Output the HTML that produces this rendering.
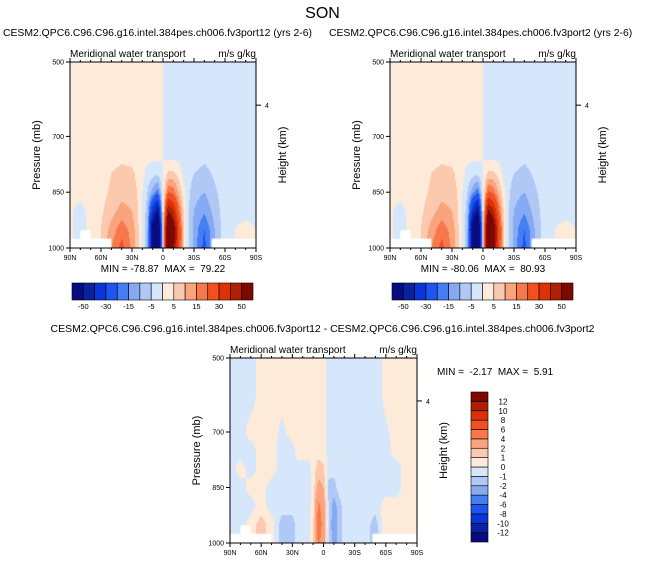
<!DOCTYPE html>
<html><head><meta charset="utf-8">
<style>
body{margin:0;background:#fff;width:645px;height:565px;overflow:hidden;position:relative;font-family:"Liberation Sans",sans-serif;color:#000}
.t{position:absolute;white-space:nowrap;line-height:1}
canvas{position:absolute}
svg{position:absolute;left:0;top:0}
</style></head><body>
<div class="t" style="left:0;width:645px;text-align:center;top:6px;font-size:16px">SON</div>
<svg id="ax" width="645" height="565"></svg>
<script>
const lats=[90,80,70,60,50,40,30,25,20,15,10,5,0,-5,-10,-15,-20,-25,-30,-40,-50,-60,-70,-80,-90];
const levs=[500,600,700,750,800,850,900,950,1000];
const topBounds=[-50,-40,-30,-20,-15,-10,-5,0,5,10,15,20,30,40,50];
const topTickLabels=["-50","-30","-15","-5","5","15","30","50"];
const diffBounds=[-12,-10,-8,-6,-4,-2,-1,0,1,2,4,6,8,10,12];
const colors=['#0a0a80','#0b22a0','#0a35d8','#1d55f0','#467ef2','#86a9f4','#afc8f6','#d6e7fb','#fdead9','#fcc9ae','#f9a47c','#f6784b','#f2501e','#da3108','#b01f04','#7c0800'];
const fieldL=[
[2,2,2,2,2,2,2,2,2,2,2,2,0,-2,-2,-2,-2,-2,-2,-2,-2,-2,-2,-2,-2],
[2,2,2,2,2,2,2,2,2,2,2,2,0,-2,-2,-2,-2,-2,-2,-2,-2,-2,-2,-2,-2],
[2,2,2,2,2,2,2,2,2,2,2,2,0,-2,-2,-2,-2,-2,-2,-2,-2,-2,-2,-2,-2],
[2,2,2,2,2,3,3,2,2,2,2,2,0,-2,-2,-2,-2,-2,-2,-3,-2,-2,-2,-2,-2],
[2,2,2,2,5,7,6,4,2,-2,-3,-4,0,6,6,3,-2,-3,-5,-7,-4,-2,-2,-2,-2],
[2,2,2,3,6,8,7,5,0,-5,-12,-18,0,20,18,10,2,-4,-8,-10,-6,-2,-2,-2,-2],
[1,-2,2,4,8,12,10,6,0,-8,-35,-50,0,50,40,20,5,-5,-10,-14,-8,-2,-2,-2,-2],
[1,-2,2,5,12,18,13,7,0,-10,-60,-80,0,80,60,30,6,-5,-12,-20,-10,-2,0,2,0],
[1,-2,2,5,15,22,14,7,0,-10,-55,-75,0,75,55,28,6,-5,-12,-22,-10,-2,0,3,0]];
const fieldR=[
[2,2,2,2,2,2,2,2,2,2,2,2,0,-2,-2,-2,-2,-2,-2,-2,-2,-2,-2,-2,-2],
[2,2,2,2,2,2,2,2,2,2,2,2,0,-2,-2,-2,-2,-2,-2,-2,-2,-2,-2,-2,-2],
[2,2,2,2,2,2,2,2,2,2,2,2,0,-2,-2,-2,-2,-2,-2,-2,-2,-2,-2,-2,-2],
[2,2,2,2,2,3,3,2,2,2,2,2,0,-2,-2,-2,-2,-2,-2,-3,-2,-2,-2,-2,-2],
[2,2,2,2,5,7,6,4,2,-2,-3,-4,0,6,6,3,-2,-3,-5,-7,-4,-2,-2,-2,-2],
[2,2,2,3,6,8,7,5,0,-5,-13,-19,0,21,18,10,2,-4,-8,-10,-6,-2,-2,-2,-2],
[1,-2,2,4,8,12,10,6,0,-8,-36,-52,0,52,42,20,5,-5,-10,-14,-8,-2,-2,-2,-2],
[1,-2,2,5,12,18,13,7,0,-10,-62,-80,0,81,62,30,6,-5,-12,-20,-10,-2,0,2,0],
[1,-2,2,5,15,22,14,7,0,-10,-56,-76,0,76,56,28,6,-5,-12,-22,-10,-2,0,3,0]];
const fieldD=[
[-.5,-.5,-.5,.5,.5,.5,.5,.5,.5,.5,.5,.5,.5,-.5,-.5,-.5,-.5,-.5,-.5,-.5,-.5,.3,.5,.5,.5],
[-.5,-.5,-.5,.5,.5,.5,.5,.5,.5,.5,.5,.5,.5,-.5,-.5,-.5,-.5,-.5,-.5,-.5,-.5,.3,.5,.5,.5],
[-.5,-.5,.5,.5,.5,-.3,.5,.5,.5,.5,.5,.5,.5,-.5,-.5,-.5,-.5,-.5,-.5,-.5,-.5,-.2,.5,.5,.5],
[-.5,-.5,-.5,.5,.5,-.5,-.5,.5,.5,.5,.5,.5,.5,-.5,-.5,-.5,-.5,-.5,-.5,-.5,-.5,-.5,.5,.5,.5],
[-.5,.5,-.5,.5,.5,-.5,-.5,-.5,-.5,-.5,.5,1.5,1.2,-.5,-.5,-.5,-.5,-.5,-.5,-.5,-.5,-.5,-.5,.5,.5],
[-.5,-.5,.5,.5,-.5,-.5,-.5,-.5,-.5,-.5,.5,2.5,2,-1.5,-1.5,-.5,-.5,-.5,-.5,-.5,-.5,-.5,-.5,.5,.5],
[-.5,-.5,-.5,.5,-.5,-.5,-.5,-.5,-.5,-.5,.5,4.5,3,-1,-2.5,-1.5,-.5,-.5,-.5,-.5,-.5,.5,.5,.5,.5],
[-.5,-.5,.5,1.5,.5,-1.5,-1.5,-.5,-.5,-.5,.8,5,3.5,-1,-3,-1.5,-.5,-.5,-.5,-.5,-1.5,1,.5,.5,.5],
[-.5,-.5,.5,1.5,.5,-1.5,-1.5,-.5,-.5,-.5,.8,4.5,3,-1,-2.5,-1.5,-.5,-.5,-.5,-.5,-1.5,1,.5,.5,.5]];
const xTickLabels=["90N","60N","30N","0","30S","60S","90S"];
const xTickLats=[90,60,30,0,-30,-60,-90];
const pTicks=[500,700,850,1000];

const NS='http://www.w3.org/2000/svg';
const svg=document.getElementById('ax');
function el(tag,attrs,parent){const e=document.createElementNS(NS,tag);for(const k in attrs)e.setAttribute(k,attrs[k]);(parent||svg).appendChild(e);return e;}
function txt(x,y,s,size,anchor,parent,rot){const t=el('text',{x:x,y:y,'font-size':size,'text-anchor':anchor||'start','font-family':'Liberation Sans, sans-serif'},parent);if(rot)t.setAttribute('transform','rotate(-90 '+x+' '+y+')');t.textContent=s;return t;}
function colorFor(v,b){let i=0;while(i<b.length&&v>b[i])i++;return colors[i];}
function sample(f,lat,p){
  let i=0;while(i<lats.length-2&&lat<lats[i+1])i++;
  let tx=(lats[i]-lat)/(lats[i]-lats[i+1]);
  let j=0;while(j<levs.length-2&&p>levs[j+1])j++;
  let ty=(p-levs[j])/(levs[j+1]-levs[j]);
  tx=Math.max(0,Math.min(1,tx));ty=Math.max(0,Math.min(1,ty));
  const a=f[j][i],b=f[j][i+1],c=f[j+1][i],d=f[j+1][i+1];
  return a*(1-tx)*(1-ty)+b*tx*(1-ty)+c*(1-tx)*ty+d*tx*ty;
}
function panel(name,x0,y0,w,h,field,bounds){
  const xS=lat=>x0+(90-lat)/180*w, yS=p=>y0+(p-500)/500*h;
  const cv=document.createElement('canvas');cv.width=w;cv.height=h;
  cv.style.left=x0+'px';cv.style.top=y0+'px';
  
  
  document.body.insertBefore(cv,svg);
  const ctx=cv.getContext('2d');
  for(let px=0;px<w;px++)for(let py=0;py<h;py++){
    const lat=90-(px+0.5)/w*180,p=500+(py+0.5)/h*500;
    ctx.fillStyle=colorFor(sample(field,lat,p),bounds);ctx.fillRect(px,py,1,1);
  }
  ctx.fillStyle='#fff';
  ctx.fillRect(0,yS(975)-y0,xS(50)-x0,h);ctx.fillRect(xS(80)-x0,yS(952)-y0,xS(70)-xS(80),h);
  ctx.fillRect(xS(-47)-x0,yS(975)-y0,w,h);
  const g=el('g',{});
  el('rect',{x:x0,y:y0,width:w,height:h,fill:'none',stroke:'#000','stroke-width':1},g);
  for(let lat=90;lat>=-90;lat-=10){const X=xS(lat),L=lat%30==0?4:2;
    el('line',{x1:X,x2:X,y1:y0+h,y2:y0+h+L,stroke:'#000'},g);el('line',{x1:X,x2:X,y1:y0,y2:y0-L,stroke:'#000'},g);}
  xTickLabels.forEach((s,k)=>{const t=txt(xS(xTickLats[k]),y0+h+12,s,7,'middle',g);});
  pTicks.forEach(p=>{const Y=yS(p);el('line',{x1:x0-4,x2:x0,y1:Y,y2:Y,stroke:'#000'},g);
    const t=txt(x0-6,Y+2.5,String(p),7,'end',g);});
  const Y4=yS(616);el('line',{x1:x0+w,x2:x0+w+5,y1:Y4,y2:Y4,stroke:'#000'},g);txt(x0+w+9,Y4+3,'4',7,'start',g);
  const yt=txt(x0-30,y0+h/2,'Pressure (mb)',11,'middle',g,true);
  const rt=txt(x0+w+30,y0+h/2,'Height (km)',11,'middle',g,true);
  const lt=txt(x0,y0-5,'Meridional water transport',10,'start',g);
  const ut=txt(x0+w,y0-5,'m/s g/kg',10,'end',g);
}
function hbar(name,x0,y0,w,h){
  const g=el('g',{});
  const bw=w/colors.length;
  colors.forEach((c,i)=>{const r=el('rect',{x:x0+i*bw,y:y0,width:bw,height:h,fill:c,stroke:'#000','stroke-width':0.6},g);});
  topTickLabels.forEach((s,k)=>{txt(x0+(1+2*k)*bw,y0+h+9,s,7.5,'middle',g);});
}
function vbar(name,x0,y0,w,h){
  const g=el('g',{});
  const bh=h/colors.length;
  colors.forEach((c,i)=>{const r=el('rect',{x:x0,y:y0+(colors.length-1-i)*bh,width:w,height:bh,fill:c,stroke:'#000','stroke-width':0.6},g);});
  diffBounds.forEach((b,k)=>{txt(x0+w+15,y0+(colors.length-1-k)*bh+3,String(b),8,'middle',g);});
}
panel('left-panel',70,62,186,186,fieldL,topBounds);
panel('right-panel',390,62,186,186,fieldR,topBounds);
panel('diff-panel',230,358,187,185,fieldD,diffBounds);
hbar('left-colorbar',72,283,181,17);
hbar('right-colorbar',392,283,181,17);
vbar('diff-colorbar',471,392,17,150);
</script>
<div class="t" style="left:3px;top:29px;font-size:10.4px">CESM2.QPC6.C96.C96.g16.intel.384pes.ch006.fv3port12 (yrs 2-6)</div>
<div class="t" style="left:329px;top:29px;font-size:10.4px">CESM2.QPC6.C96.C96.g16.intel.384pes.ch006.fv3port2 (yrs 2-6)</div>
<div class="t" style="left:70px;width:186px;text-align:center;top:265px;font-size:10px">MIN = -78.87&nbsp; MAX =&nbsp; 79.22</div>
<div class="t" style="left:390px;width:186px;text-align:center;top:265px;font-size:10px">MIN = -80.06&nbsp; MAX =&nbsp; 80.93</div>
<div class="t" style="left:0;width:645px;text-align:center;top:324px;font-size:10.5px">CESM2.QPC6.C96.C96.g16.intel.384pes.ch006.fv3port12 - CESM2.QPC6.C96.C96.g16.intel.384pes.ch006.fv3port2</div>
<div class="t" style="left:437px;top:368px;font-size:10px">MIN =&nbsp; -2.17&nbsp; MAX =&nbsp; 5.91</div>
</body></html>
